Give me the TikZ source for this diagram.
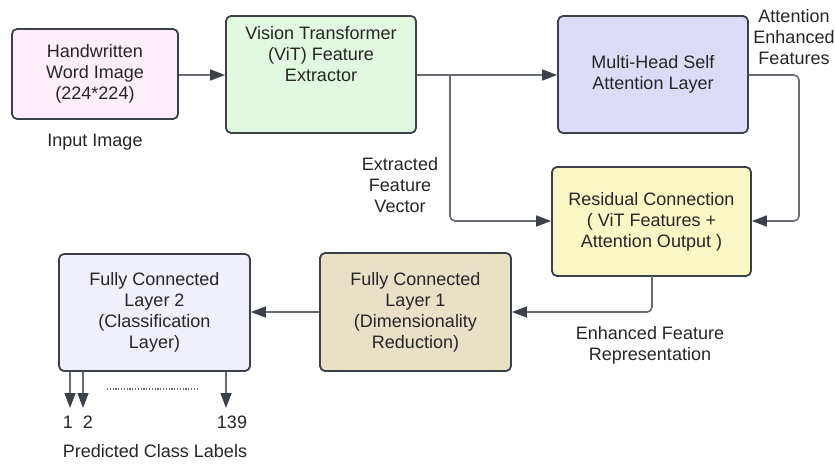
\documentclass[tikz,border=0pt]{standalone}
\usepackage{fontspec}
\setmainfont{Liberation Sans}
\usetikzlibrary{arrows.meta}
\definecolor{bordc}{HTML}{3C4149}
\definecolor{linec}{HTML}{686D74}
\definecolor{txtc}{HTML}{262626}
\definecolor{cimg}{HTML}{FDEEF9}
\definecolor{cvit}{HTML}{E0F9E0}
\definecolor{cmhsa}{HTML}{DCDCF8}
\definecolor{cres}{HTML}{FAF7C6}
\definecolor{cfca}{HTML}{E8E1C6}
\definecolor{cfcb}{HTML}{EFF0FC}
\tikzset{
  blk/.style={draw=bordc, line width=1.8pt, rounded corners=5pt, align=center,
    text=txtc, font=\fontsize{18}{21}\selectfont, inner sep=0pt},
  lbl/.style={align=center, text=txtc, font=\fontsize{18}{21}\selectfont, inner sep=0pt},
  conn/.style={draw=linec, line width=1.6pt, rounded corners=5pt,
    -{Triangle[length=15pt,width=11pt,color=bordc]}},
}
\begin{document}
\begin{tikzpicture}[x=1pt,y=-1pt]
\useasboundingbox (0,0) rectangle (835,464);
% boxes
\node[blk, fill=cimg, minimum width=166pt, minimum height=90pt] (img) at (95,74) {Handwritten\\Word Image\\(224*224)};
\node[blk, fill=cvit, minimum width=190pt, minimum height=117pt] (vit) at (321,74.5) {Vision Transformer\\(ViT) Feature\\Extractor\\[21pt]};
\node[blk, fill=cmhsa, minimum width=190pt, minimum height=117pt] (mhsa) at (653,74.5) {Multi-Head Self\\Attention Layer};
\node[blk, fill=cres, minimum width=199pt, minimum height=109pt] (res) at (651.5,221.5) {Residual Connection\\( ViT Features +\\Attention Output )};
\node[blk, fill=cfca, minimum width=191pt, minimum height=118pt] (fca) at (415.5,312) {Fully Connected\\Layer 1\\(Dimensionality\\Reduction)};
\node[blk, fill=cfcb, minimum width=191pt, minimum height=117pt] (fcb) at (154.5,312.5) {Fully Connected\\Layer 2\\(Classification\\Layer)};
% labels
\node[lbl] (linput) at (95,142) {Input Image};
\node[lbl] (lext) at (400,185) {Extracted\\Feature\\Vector};
\node[lbl] (latt) at (794,37) {Attention\\Enhanced\\Features};
\node[lbl] (lenh) at (650,345) {Enhanced Feature\\Representation};
\node[lbl] (l1) at (68,422) {1};
\node[lbl] (l2) at (88,422) {2};
\node[lbl] (l139) at (232,422) {139};
\node[lbl] (lpred) at (155,451) {Predicted Class Labels};
% coordinates
\coordinate (br) at (450,75);
\coordinate (o1) at (70,408);
\coordinate (o2) at (83,408);
\coordinate (o3) at (226,408);
\coordinate (da) at (107,389);
\coordinate (db) at (197,389);
% connectors
\draw[conn] (img.east |- 0,75) -- (vit.west |- 0,75);
\draw[conn] (vit.east |- 0,75) -- (mhsa.west |- 0,75);
\draw[conn] (br) |- (res.west |- 0,221);
\draw[conn] (mhsa.east |- 0,75) -- (799,75) |- (res.east |- 0,221);
\draw[conn] (652,276) |- (fca.east |- 0,312);
\draw[conn] (fca.west |- 0,312) -- (fcb.east |- 0,312);
\draw[conn] (o1 |- fcb.south) -- (o1);
\draw[conn] (o2 |- fcb.south) -- (o2);
\draw[conn] (o3 |- fcb.south) -- (o3);
\draw[linec, line width=1.2pt, dash pattern=on 1.2pt off 1.6pt] (da) -- (db);
\end{tikzpicture}
\end{document}
